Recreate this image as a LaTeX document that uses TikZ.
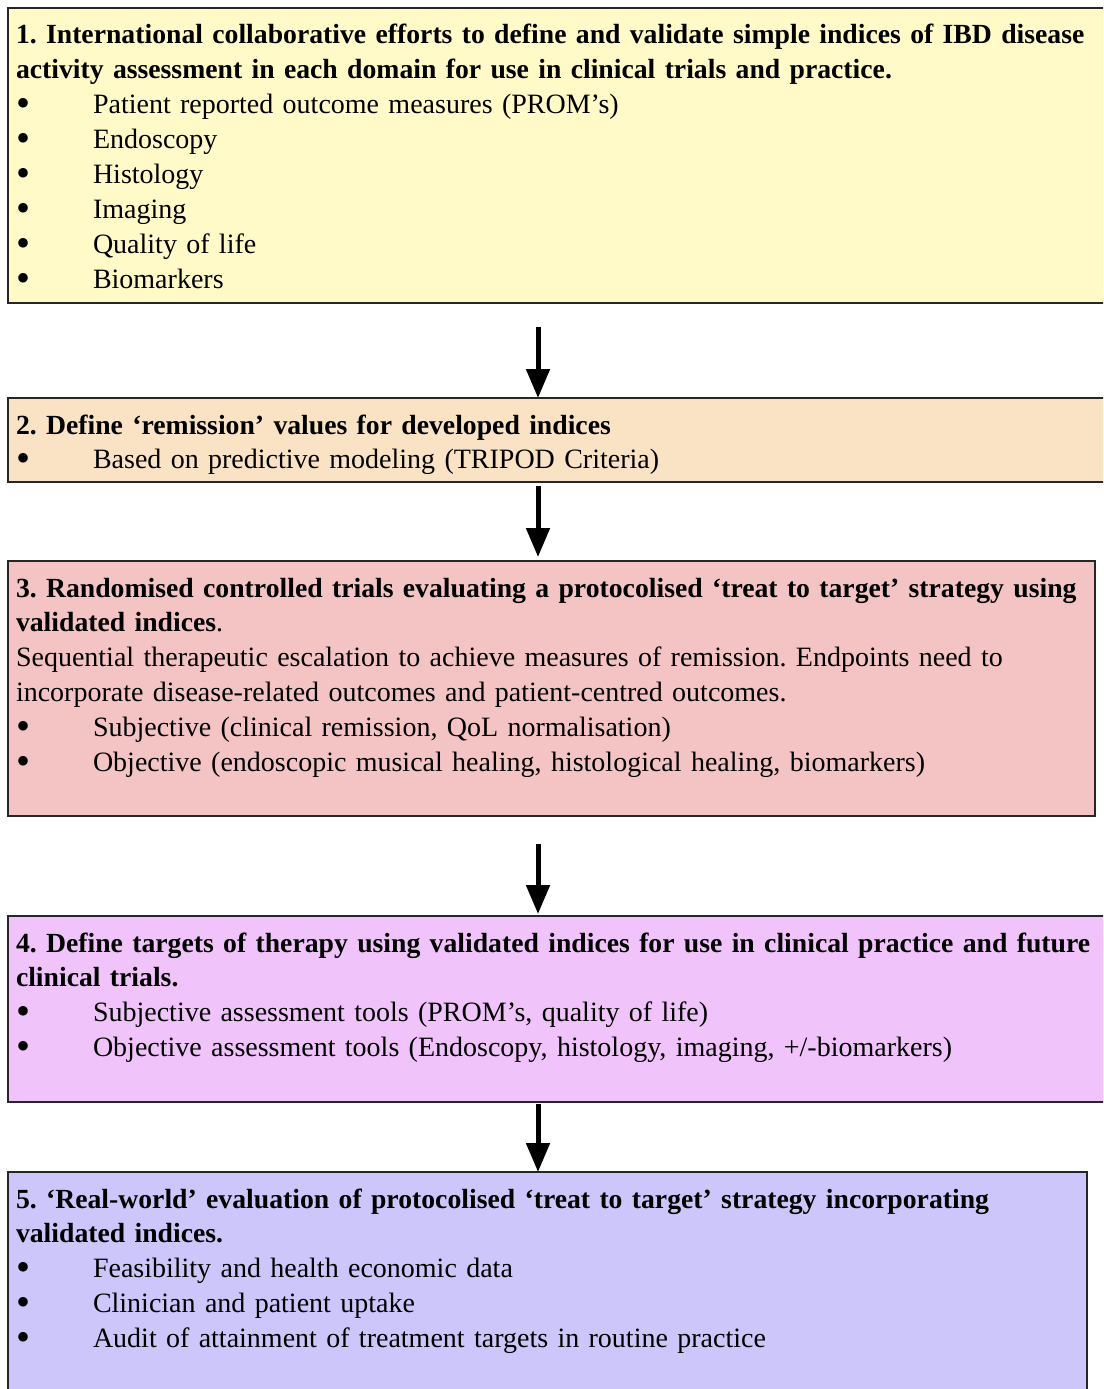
\documentclass[tikz,border=0pt]{standalone}
\usepackage{fontspec}
\setmainfont{Liberation Serif}
\usetikzlibrary{positioning, arrows.meta}

\definecolor{stepyellow}{HTML}{FFFAC8}
\definecolor{steppeach}{HTML}{FAE2C4}
\definecolor{steppink}{HTML}{F4C4C4}
\definecolor{stepviolet}{HTML}{F0C4FA}
\definecolor{steplilac}{HTML}{CCC6FA}

\newcommand{\itm}[1]{\makebox[77bp][l]{\smash{\raisebox{-3bp}{\fontsize{40bp}{40bp}\selectfont\textbullet}}}#1}
\newcommand{\hd}[1]{\mbox{\fontsize{27.7bp}{34.9bp}\selectfont\textbf{#1}}}

\begin{document}
\begin{tikzpicture}[
    x=1bp, y=-1bp,
    stepbox/.style={draw=black!85, line width=2bp, rectangle, align=left, outer sep=0pt,
        inner xsep=8bp, inner ysep=12bp, text height=24bp,
        font=\fontsize{28bp}{34.9bp}\selectfont\frenchspacing},
    >={Triangle[length=29bp, width=23bp]}
]
\useasboundingbox (0,0) rectangle (1103,1389);
\clip (0,0) rectangle (1103,1389);
\coordinate (ax) at (538,0);
\node[stepbox, fill=stepyellow, text width=1090bp, text depth=247bp, anchor=north west] (domains) at (8,8)
    {\hd{1. International collaborative efforts to define and validate simple indices of IBD disease}\\
     \hd{activity assessment in each domain for use in clinical trials and practice.}\\
     \itm{Patient reported outcome measures (PROM’s)}\\
     \itm{Endoscopy}\\
     \itm{Histology}\\
     \itm{Imaging}\\
     \itm{Quality of life}\\
     \itm{Biomarkers}};
\node[stepbox, fill=steppeach, text width=1090bp, text depth=36bp, below=95bp of domains.south west, anchor=north west] (remission)
    {\hd{2. Define ‘remission’ values for developed indices}\\
     \itm{Based on predictive modeling (TRIPOD Criteria)}};
\node[stepbox, fill=steppink, text width=1071bp, text depth=207bp, below=79bp of remission.south west, anchor=north west] (trials)
    {\hd{3. Randomised controlled trials evaluating a protocolised ‘treat to target’ strategy using}\\
     \hd{validated indices}.\\
     Sequential therapeutic escalation to achieve measures of remission. Endpoints need to\\
     incorporate disease-related outcomes and patient-centred outcomes.\\
     \itm{Subjective (clinical remission, QoL normalisation)}\\
     \itm{Objective (endoscopic musical healing, histological healing, biomarkers)}};
\node[stepbox, fill=stepviolet, text width=1090bp, text depth=138bp, below=100bp of trials.south west, anchor=north west] (targets)
    {\hd{4. Define targets of therapy using validated indices for use in clinical practice and future}\\
     \hd{clinical trials.}\\
     \itm{Subjective assessment tools (PROM’s, quality of life)}\\
     \itm{Objective assessment tools (Endoscopy, histology, imaging, +/-biomarkers)}};
\node[stepbox, fill=steplilac, text width=1063bp, text depth=230bp, below=70bp of targets.south west, anchor=north west] (realworld)
    {\hd{5. ‘Real-world’ evaluation of protocolised ‘treat to target’ strategy incorporating}\\
     \hd{validated indices.}\\
     \itm{Feasibility and health economic data}\\
     \itm{Clinician and patient uptake}\\
     \itm{Audit of attainment of treatment targets in routine practice}};
\draw[->, line width=5bp, shorten <=24bp] (domains.south -| ax) -- (remission.north -| ax);
\draw[->, line width=5bp, shorten <=4bp, shorten >=4bp] (remission.south -| ax) -- (trials.north -| ax);
\draw[->, line width=5bp, shorten <=28bp, shorten >=2bp] (trials.south -| ax) -- (targets.north -| ax);
\draw[->, line width=5bp, shorten <=2bp] (targets.south -| ax) -- (realworld.north -| ax);
\end{tikzpicture}
\end{document}
